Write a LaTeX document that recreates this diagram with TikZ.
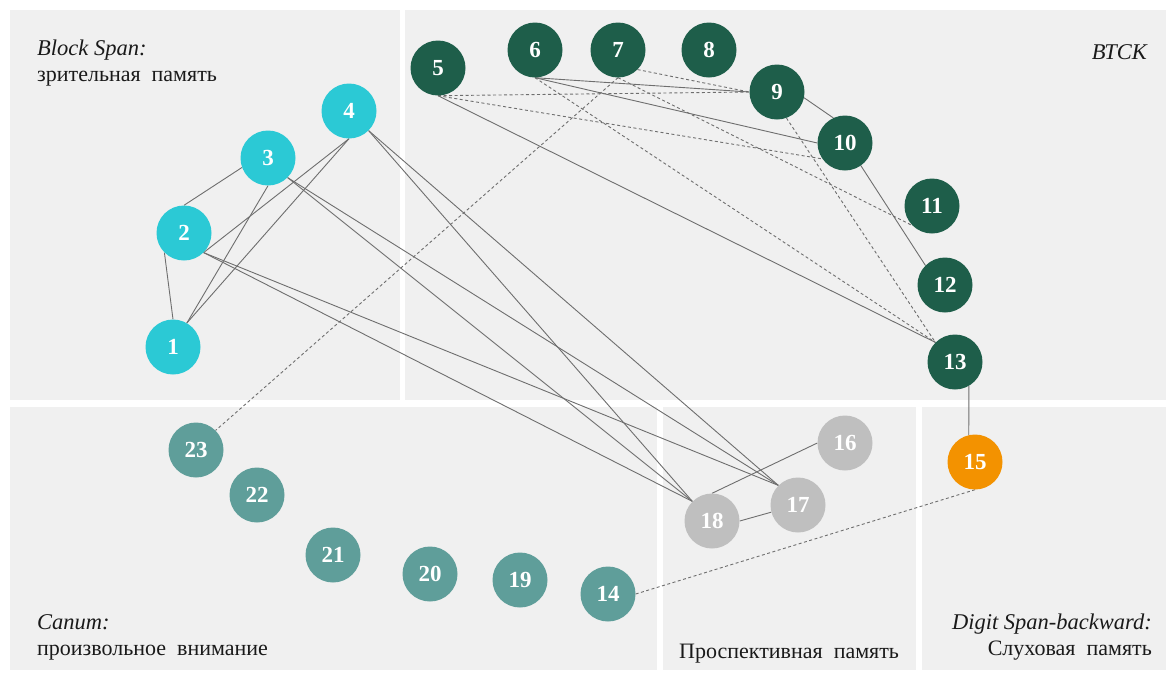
\documentclass[tikz,border=0pt]{standalone}
\usepackage{fontspec}
\setmainfont{Liberation Serif}
\usetikzlibrary{backgrounds}
\definecolor{panelgrey}{HTML}{F0F0F0}
\definecolor{ncyan}{HTML}{2BC9D5}
\definecolor{ngreen}{HTML}{1E5E4A}
\definecolor{nteal}{HTML}{5F9E9A}
\definecolor{ngrey}{HTML}{BFBFBF}
\definecolor{norange}{HTML}{F39200}
\definecolor{edgegrey}{HTML}{6E6E6E}
\definecolor{labtext}{HTML}{1A1A1A}
\begin{document}
\begin{tikzpicture}[x=1pt,y=-1pt,
  panel/.style={fill=panelgrey,draw=none},
  nd/.style={circle,minimum size=55pt,inner sep=0pt,text=white,font=\fontsize{23}{23}\selectfont\bfseries},
  cy/.style={nd,fill=ncyan},
  gr/.style={nd,fill=ngreen},
  tl/.style={nd,fill=nteal},
  gy/.style={nd,fill=ngrey},
  og/.style={nd,fill=norange},
  edge/.style={draw=edgegrey,line width=0.9pt},
  dedge/.style={edge,dash pattern=on 3pt off 2.5pt},
  lab/.style={inner sep=0pt,text=labtext,font=\fontsize{22}{24}\selectfont},
  ilab/.style={inner sep=0pt,text=labtext,font=\fontsize{22.5}{24}\selectfont\itshape}
]
\useasboundingbox (0,0) rectangle (1169,673);

% labels
\node[ilab,anchor=base west] (tbs) at (37,55) {Block Span:};
\node[lab,anchor=base west] (tbs2) at (37,81) {зрительная~ память};
\node[ilab,anchor=base east] (tvt) at (1147,59) {ВТСК};
\node[ilab,anchor=base west] (tca) at (37,629) {Canum:};
\node[lab,anchor=base west] (tca2) at (37,655) {произвольное~ внимание};
\node[lab,anchor=base west] (tpr) at (679,658) {Проспективная~ память};
\node[ilab,anchor=base east] (tds) at (1152,629) {Digit Span-backward:};
\node[lab,anchor=base east] (tds2) at (1152,655) {Слуховая~ память};

% nodes
\node[cy] (n1) at (173,347) {1};
\node[cy] (n2) at (184,233) {2};
\node[cy] (n3) at (268,158) {3};
\node[cy] (n4) at (349,111) {4};
\node[gr] (n5) at (438,68) {5};
\node[gr] (n6) at (535,50) {6};
\node[gr] (n7) at (618,50) {7};
\node[gr] (n8) at (709,50) {8};
\node[gr] (n9) at (777,92) {9};
\node[gr] (n10) at (845,143) {10};
\node[gr] (n11) at (932,206) {11};
\node[gr] (n12) at (945,285) {12};
\node[gr] (n13) at (955,362) {13};
\node[og] (n15) at (975,462) {15};
\node[gy] (n16) at (845,443) {16};
\node[gy] (n17) at (798,505) {17};
\node[gy] (n18) at (712,521) {18};
\node[tl] (n14) at (608,594) {14};
\node[tl] (n19) at (520,580) {19};
\node[tl] (n20) at (430,574) {20};
\node[tl] (n21) at (333,555) {21};
\node[tl] (n22) at (257,495) {22};
\node[tl] (n23) at (196,450) {23};

\begin{scope}[on background layer]
\fill[white] (0,0) rectangle (1169,673);
% panels
\fill[panel] (10,10) rectangle (400,400);
\fill[panel] (405,10) rectangle (1166,400);
\fill[panel] (10,407) rectangle (657,670);
\fill[panel] (663,407) rectangle (916,670);
\fill[panel] (922,407) rectangle (1166,670);
% left group
\draw[edge] (n1.north) -- (n2.south west);
\draw[edge] (n1.60) -- (n3.south);
\draw[edge] (n1.60) -- (n4.south);
\draw[edge] (n2.north) -- (n3.200);
\draw[edge] (n2.south east) -- (n4.south);
\draw[edge] (n2.south east) -- (n17.north west);
\draw[edge] (n2.south east) -- (n18.north west);
\draw[edge] (n3.south east) -- (n17.north west);
\draw[edge] (n3.south east) -- (n18.north west);
\draw[edge] (n4.south east) -- (n17.north west);
\draw[edge] (n4.south east) -- (n18.north west);
\draw[edge] (n18.north) -- (n16.west);
\draw[edge] (n18.east) -- (n17.195);
% top right
\draw[edge] (n5.south) -- (n13.north west);
\draw[dedge] (n5.south) -- (n9.west);
\draw[dedge] (n5.south) -- (n10.215);
\draw[edge] (n6.south) -- (n9.west);
\draw[edge] (n6.south) -- (n10.west);
\draw[dedge] (n6.south) -- (n13.north west);
\draw[dedge] (n7.south east) -- (n9.west);
\draw[dedge] (n7.south) -- (n11.south west);
\draw[dedge] (n7.south) -- (n23.north east);
\draw[edge] (n9.-12) -- (n10.115);
\draw[edge] (n10.-55) -- (n12.north west);
\draw[dedge] (n9.-70) -- (n13.north west);
\draw[edge] (n13.-60) -- (n15.103);
\draw[dedge] (n14.east) -- (n15.south);
\end{scope}
\end{tikzpicture}
\end{document}
